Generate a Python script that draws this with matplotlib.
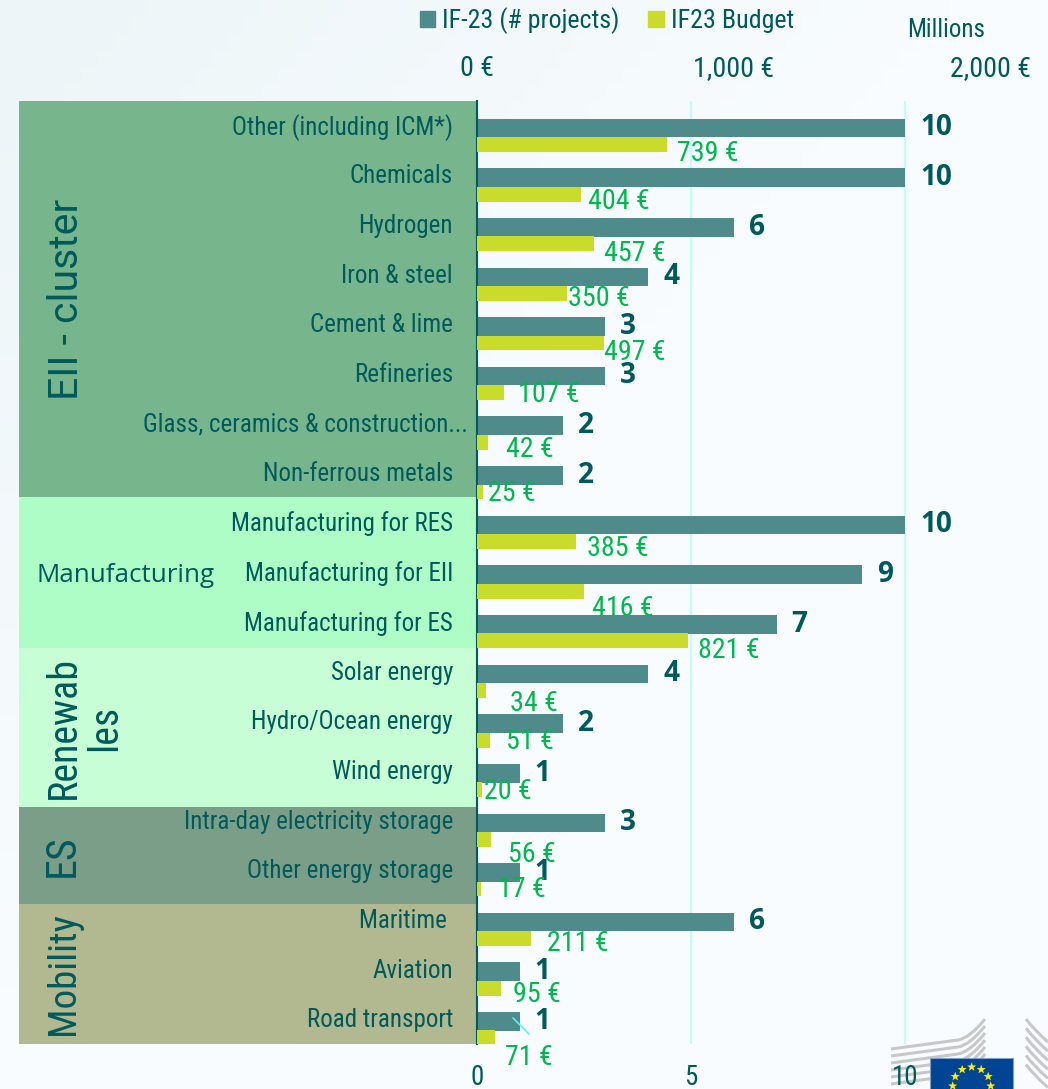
import numpy as np
import matplotlib
matplotlib.use('Agg')
import matplotlib.pyplot as plt
from matplotlib.patches import Patch, Rectangle, PathPatch
from matplotlib.path import Path
from matplotlib.transforms import ScaledTranslation

plt.rcParams['font.family'] = ['Roboto Condensed', 'DejaVu Sans']

W, H = 1048, 1089

categories = ['Other (including ICM*)', 'Chemicals', 'Hydrogen', 'Iron & steel', 'Cement & lime',
              'Refineries', 'Glass, ceramics & construction...', 'Non-ferrous metals',
              'Manufacturing for RES', 'Manufacturing for EII', 'Manufacturing for ES',
              'Solar energy', 'Hydro/Ocean energy', 'Wind energy',
              'Intra-day electricity storage', 'Other energy storage',
              'Maritime ', 'Aviation', 'Road transport']
projects = [10, 10, 6, 4, 3, 3, 2, 2, 10, 9, 7, 4, 2, 1, 3, 1, 6, 1, 1]
budget = [739, 404, 457, 350, 497, 107, 42, 25, 385, 416, 821, 34, 51, 20, 56, 17, 211, 95, 71]

groups = ['EII - cluster', 'Manufacturing', 'Renewab\nles', 'ES', 'Mobility']
# band edges do not sit on the rows in the original
group_edges = [-0.5, 7.48, 10.52, 13.73, 15.68, 18.5]
group_colors = ['#77b58c', '#aefdc6', '#c8fed6', '#7a9e88', '#b2b88f']
group_x = [66, 126, 84, 62, 63]
group_dy = [0, 3, 0, 0, 0]
group_size = [41, 26, 40, 42, 39]
group_font = ['Roboto', 'Open Sans', 'Roboto Condensed', 'Roboto Condensed', 'Roboto Condensed']
group_rot = [90, 0, 90, 90, 90]

# hand placed labels in the original, pixels from bar end / row centre
label_dx = [10, 7, 10, 1, 0, 14, 18, 5, 11, 8, 10, 24, 16, 2, 17, 17, 16, 12, 10]
label_dy = [25, 24, 26, 21, 26, 18, 23, 18, 23, 34, 26, 29, 18, 18, 31, 17, 21, 22, 36]

teal = '#508b8c'
yellow = '#c9dc2c'
dark = '#005a5b'
green = '#00b84f'
grid_c = '#c4fbfb'


def px(v):
    return v * 72 / 100


def star(ax, x, y, r):
    ang = np.pi / 2 + np.arange(10) * np.pi / 5
    rad = np.where(np.arange(10) % 2 == 0, r, r * 0.4)
    ax.fill(x + rad * np.cos(ang), y - rad * np.sin(ang), color='#ffed00', lw=0)


fig = plt.figure(figsize=(W / 100, H / 100), dpi=100)

# background and logo in pixel coords
bg = fig.add_axes([0, 0, 1, 1], zorder=0)
bg.axis('off')
gx, gy = np.meshgrid(np.linspace(0, 1, 64), np.linspace(0, 1, 64))
t = np.clip((gx + gy) * 1.1, 0, 1)[..., None]
bg.imshow(np.array([237, 245, 248]) / 255 * (1 - t) + np.array([248, 252, 254]) / 255 * t,
          extent=[0, W, H, 0], aspect='auto')
for k in range(6):
    o = k * 7
    verts = [(891, 1049 + o), (958, 1040 + o), (970, 1038 + o), (985, 1019 + o)]
    bg.add_patch(PathPatch(Path(verts, [Path.MOVETO, Path.LINETO, Path.CURVE3, Path.CURVE3]),
                           fill=False, ec='#c8c8c8', lw=2.2))
    verts = [(1026, 1019 + o * 1.3), (1034, 1030 + o * 1.3), (1048, 1042 + o * 1.3)]
    bg.add_patch(PathPatch(Path(verts, [Path.MOVETO, Path.CURVE3, Path.CURVE3]),
                           fill=False, ec='#c8c8c8', lw=2.2))
bg.add_patch(Rectangle((930, 1058), 83, 40, fc='#004494', ec='#7f9fc9', lw=0.8))
for a in np.arange(12) * np.pi / 6:
    star(bg, 971.7 + 19 * np.sin(a), 1086 - 19 * np.cos(a), 4.8)
bg.set_xlim(0, W)
bg.set_ylim(H, 0)

x0, x1 = 477, W
ax = fig.add_axes([x0 / W, 1 - 1044 / H, (x1 - x0) / W, (1044 - 101) / H], zorder=2)
ax.patch.set_alpha(0)
ax.set_xlim(0, (x1 - x0) / 42.8)
ax.set_ylim(len(categories) - 0.5, -0.5)

ax2 = ax.twiny()
ax2.patch.set_alpha(0)
ax2.set_xlim(0, (x1 - x0) / 0.2565)

rows = np.arange(len(categories))
ax.barh(rows + 0.044, projects, height=0.375, color=teal, zorder=3)
ax2.barh(rows + 0.377, budget, height=0.3, color=yellow, zorder=3)

ax.set_xticks([0, 5, 10])
ax.grid(axis='x', color=grid_c, lw=1.6, zorder=1)
ax.set_axisbelow(True)
ax.set_yticks(rows)
ax.set_yticklabels(categories)
ax.tick_params(axis='y', length=0, pad=px(24), labelsize=px(25), labelcolor=dark)
ax.tick_params(axis='x', length=0, pad=px(20), labelsize=px(27), labelcolor=dark)
ax2.set_xticks([0, 1000, 2000])
ax2.set_xticklabels(['0 €', '1,000 €', '2,000 €'])
ax2.tick_params(axis='x', length=0, pad=px(19), labelsize=px(28), labelcolor=dark)
# nudge the category labels up, the long glass label also runs further right
for n, tl in enumerate(ax.get_yticklabels()):
    dx = 15 if n == 6 else 0
    tl.set_transform(tl.get_transform() + ScaledTranslation(dx / 100, 1.5 / 100, fig.dpi_scale_trans))
for s in ax.spines.values():
    s.set_visible(False)
for s in ax2.spines.values():
    s.set_visible(False)
ax.spines['left'].set_visible(True)
ax.spines['left'].set_color(dark)
ax.spines['left'].set_linewidth(1.5)
ax.spines['left'].set_zorder(5)

# group bands
left = (19 - x0) / (x1 - x0)
for i, name in enumerate(groups):
    y0, y1 = group_edges[i], group_edges[i + 1]
    ax.axhspan(y0, y1, xmin=left, xmax=0, color=group_colors[i], lw=0, clip_on=False, zorder=0)
    ax.annotate(name, (0, (y0 + y1) / 2), xycoords=('axes fraction', 'data'),
                xytext=(px(group_x[i] - x0), -px(group_dy[i])),
                textcoords='offset points', ha='center', va='center', fontsize=px(group_size[i]), color=dark,
                rotation=group_rot[i], family=[group_font[i], 'DejaVu Sans'], multialignment='center',
                linespacing=1.05)

# value labels
for i, (p, b) in enumerate(zip(projects, budget)):
    ax.annotate(str(p), (p, i), xytext=(px(15), -px(2)), textcoords='offset points', ha='left', va='center',
                fontsize=px(28), fontweight='bold', color=dark, family=['Open Sans', 'DejaVu Sans'], zorder=6)
    ax2.annotate(f'{b} €', (b, i), xytext=(px(label_dx[i]), -px(label_dy[i] + 2.5)), textcoords='offset points',
                 ha='left', va='center', fontsize=px(28), color=green, zorder=6)

# leader line of the last label
ax2.annotate('', xy=(529, H - 1034), xycoords='figure pixels', xytext=(513, H - 1018),
             textcoords='figure pixels', arrowprops=dict(arrowstyle='-', color='#5ff0f0', lw=1.2,
                                                         shrinkA=0, shrinkB=0))

fig.legend(handles=[Patch(color=teal, label='IF-23 (# projects)'), Patch(color=yellow, label='IF23 Budget')],
           loc='center', bbox_to_anchor=(607 / W, 1 - 21 / H), ncols=2, frameon=False, fontsize=px(26),
           labelcolor=dark, handlelength=0.58, handleheight=0.58, handletextpad=0.3, columnspacing=1.1)
fig.text(907 / W, 1 - 30 / H, 'Millions', fontsize=px(25), color=dark, ha='left', va='center')

fig.savefig('out.png', dpi=100)
